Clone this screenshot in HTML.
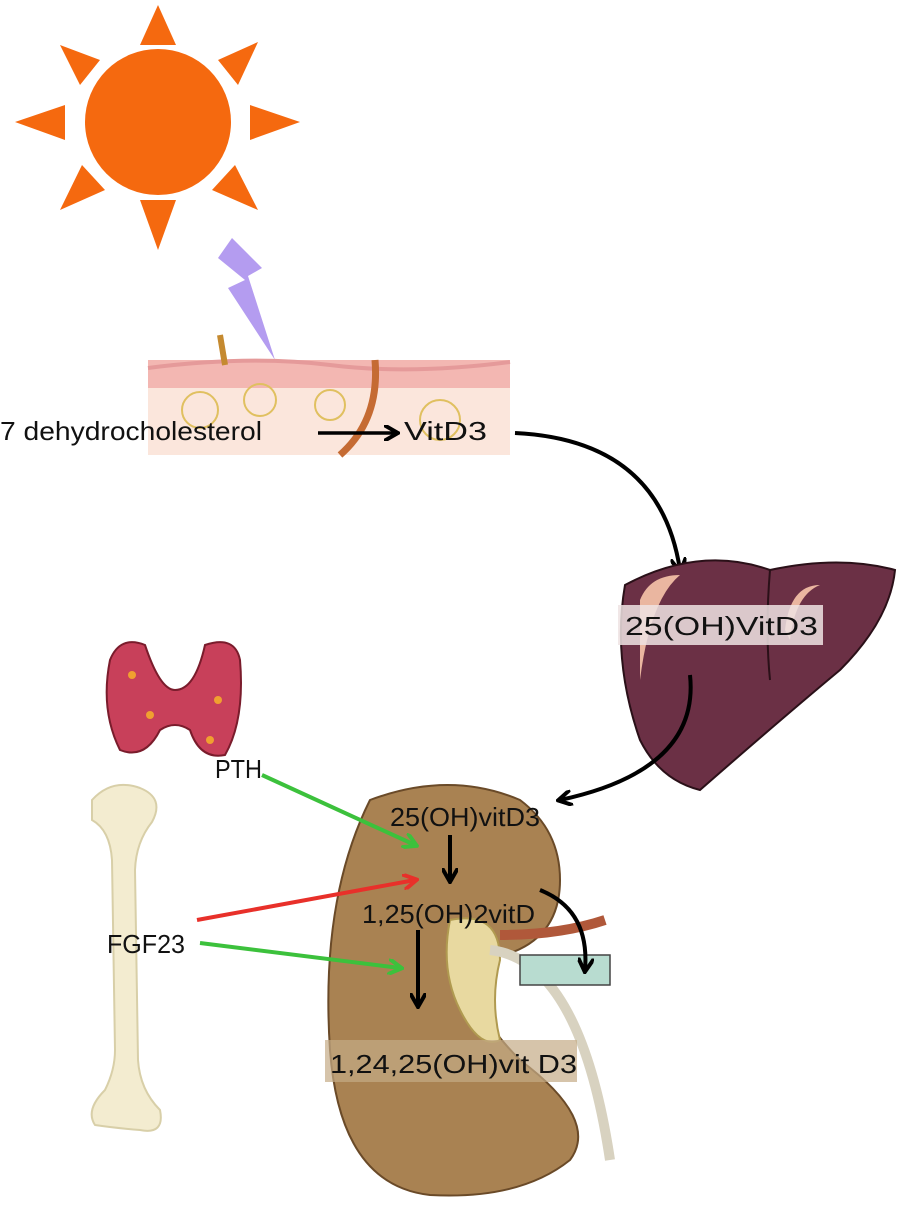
<!DOCTYPE html>
<html><head><style>
body{margin:0;background:#fff;}
svg{display:block;}
text{font-family:"Liberation Sans",sans-serif;fill:#111;}
</style></head><body>
<svg width="900" height="1208" viewBox="0 0 900 1208" xmlns="http://www.w3.org/2000/svg">
<defs>
<marker id="ab" markerWidth="16" markerHeight="16" refX="12" refY="8" orient="auto" markerUnits="userSpaceOnUse"><path d="M0,0 L14,8 L0,16" fill="none" stroke="#000" stroke-width="4"/></marker>
<marker id="ag" markerWidth="16" markerHeight="16" refX="12" refY="8" orient="auto" markerUnits="userSpaceOnUse"><path d="M0,0 L14,8 L0,16" fill="none" stroke="#3cc13c" stroke-width="4"/></marker>
<marker id="ar" markerWidth="16" markerHeight="16" refX="12" refY="8" orient="auto" markerUnits="userSpaceOnUse"><path d="M0,0 L14,8 L0,16" fill="none" stroke="#e8302a" stroke-width="4"/></marker>
</defs>
<g fill="#f5690f">
<circle cx="158" cy="122" r="73"/>
<polygon points="140,45 176,45 158,5"/>
<polygon points="140,200 176,200 158,250"/>
<polygon points="65,105 65,140 15,122"/>
<polygon points="250,105 250,140 300,122"/>
<polygon points="60,45 100,60 80,85"/>
<polygon points="258,42 218,60 238,85"/>
<polygon points="60,210 82,165 105,190"/>
<polygon points="258,210 235,165 212,190"/>
</g>
<polygon points="232,238 262,268 248,276 275,360 228,288 245,280 218,258" fill="#b49cf0"/>
<rect x="148" y="360" width="362" height="95" fill="#fbe6dc"/>
<rect x="148" y="360" width="362" height="28" fill="#f3b7b2"/>
<path d="M148,368 Q250,355 330,365 T510,362" stroke="#e59a9a" stroke-width="4" fill="none"/>
<path d="M375,360 Q380,420 340,455" stroke="#c56b33" stroke-width="7" fill="none"/>
<path d="M220,335 L225,365" stroke="#c58a30" stroke-width="6"/>
<g fill="none" stroke="#e0c060" stroke-width="2"><circle cx="200" cy="410" r="18"/><circle cx="260" cy="400" r="16"/><circle cx="330" cy="405" r="15"/><circle cx="440" cy="420" r="20"/></g>
<text x="0" y="440" font-size="26" textLength="262" lengthAdjust="spacingAndGlyphs">7 dehydrocholesterol</text>
<line x1="318" y1="433" x2="396" y2="433" stroke="#000" stroke-width="3.5" marker-end="url(#ab)"/>
<text x="404" y="440" font-size="26" textLength="83" lengthAdjust="spacingAndGlyphs">VitD3</text>
<path d="M515,433 Q660,440 680,570" stroke="#000" stroke-width="4" fill="none" marker-end="url(#ab)"/>
<path d="M625,585 Q700,545 770,570 Q840,555 895,570 Q890,620 840,670 Q780,720 700,790 Q660,780 640,740 Q612,660 625,585Z" fill="#6b3045" stroke="#2a1018" stroke-width="2"/>
<path d="M770,570 Q765,630 770,680" stroke="#2a1018" stroke-width="2" fill="none"/>
<path d="M640,600 Q650,575 680,575 Q650,600 640,680Z" fill="#eab6a0"/>
<path d="M785,630 Q790,585 820,585 Q795,595 790,640Z" fill="#eab6a0"/>
<rect x="618" y="605" width="205" height="40" fill="#eee3e3" opacity="0.85"/>
<text x="625" y="635" font-size="26" textLength="193" lengthAdjust="spacingAndGlyphs">25(OH)VitD3</text>
<path d="M690,675 Q700,770 560,800" stroke="#000" stroke-width="4" fill="none" marker-end="url(#ab)"/>
<path d="M110,660 Q120,635 145,645 Q160,690 175,690 Q195,690 205,645 Q235,635 240,660 Q245,720 225,755 Q200,760 190,730 Q175,720 160,730 Q145,760 120,750 Q100,710 110,660Z" fill="#c8405a" stroke="#7a1c2c" stroke-width="2"/>
<g fill="#f0a030"><circle cx="132" cy="675" r="4"/><circle cx="218" cy="700" r="4"/><circle cx="210" cy="740" r="4"/><circle cx="150" cy="715" r="4"/></g>
<text x="215" y="778" font-size="26" textLength="47" lengthAdjust="spacingAndGlyphs">PTH</text>
<path d="M92,800 Q112,778 140,788 Q165,798 152,822 Q136,842 135,870 L138,1060 Q140,1090 160,1110 Q165,1135 140,1130 Q115,1128 95,1125 Q85,1110 105,1090 Q115,1070 115,1050 L112,860 Q110,830 92,820Z" fill="#f3ecd0" stroke="#d8cfa8" stroke-width="2"/>
<text x="107" y="953" font-size="26" textLength="78" lengthAdjust="spacingAndGlyphs">FGF23</text>
<path d="M370,800 Q450,770 520,800 Q560,830 560,880 Q560,950 480,960 Q460,1000 520,1060 Q600,1120 570,1160 Q520,1200 430,1195 Q340,1185 330,1050 Q320,900 370,800Z" fill="#a98252" stroke="#6a4a28" stroke-width="2"/>
<path d="M450,920 Q500,910 500,960 Q490,1000 500,1040 Q480,1050 460,1010 Q440,970 450,920Z" fill="#e8d9a0" stroke="#b09a50" stroke-width="2"/>
<path d="M490,950 Q580,960 610,1160" stroke="#d8d2c0" stroke-width="10" fill="none"/>
<path d="M500,935 Q560,935 605,920" stroke="#b0583a" stroke-width="10" fill="none"/>
<rect x="520" y="955" width="90" height="30" fill="#b8dcd0" stroke="#444" stroke-width="1.5"/>
<text x="390" y="826" font-size="26" textLength="150" lengthAdjust="spacingAndGlyphs">25(OH)vitD3</text>
<line x1="450" y1="835" x2="450" y2="880" stroke="#000" stroke-width="4" marker-end="url(#ab)"/>
<text x="362" y="923" font-size="26" textLength="173" lengthAdjust="spacingAndGlyphs">1,25(OH)2vitD</text>
<path d="M540,890 Q590,910 585,970" stroke="#000" stroke-width="4" fill="none" marker-end="url(#ab)"/>
<line x1="418" y1="930" x2="418" y2="1005" stroke="#000" stroke-width="4" marker-end="url(#ab)"/>
<rect x="325" y="1040" width="252" height="42" fill="#c4ab86" opacity="0.7"/>
<text x="330" y="1073" font-size="26" textLength="247" lengthAdjust="spacingAndGlyphs">1,24,25(OH)vit D3</text>
<line x1="262" y1="775" x2="415" y2="845" stroke="#3cc13c" stroke-width="4" marker-end="url(#ag)"/>
<line x1="197" y1="920" x2="415" y2="880" stroke="#e8302a" stroke-width="4" marker-end="url(#ar)"/>
<line x1="200" y1="943" x2="400" y2="968" stroke="#3cc13c" stroke-width="4" marker-end="url(#ag)"/>
</svg>
</body></html>
